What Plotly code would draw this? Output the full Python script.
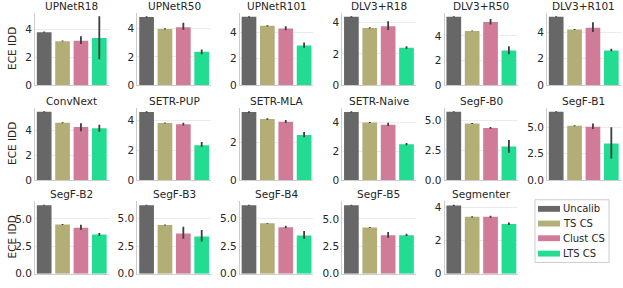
import plotly.graph_objects as go

models = ["UPNetR18", "UPNetR50", "UPNetR101", "DLV3+R18", "DLV3+R50", "DLV3+R101",
          "ConvNext", "SETR-PUP", "SETR-MLA", "SETR-Naive", "SegF-B0", "SegF-B1",
          "SegF-B2", "SegF-B3", "SegF-B4", "SegF-B5", "Segmenter"]
series = ["Uncalib", "TS CS", "Clust CS", "LTS CS"]

uncalib = [3.82, 4.83, 5.15, 4.37, 5.56, 5.15, 5.47, 4.56, 3.64, 4.70, 5.73, 6.45, 6.25, 6.19, 6.19, 6.25, 4.14]
uncalib_lo = [3.78, 4.79, 5.10, 4.33, 5.52, 5.11, 5.43, 4.52, 3.60, 4.66, 5.69, 6.40, 6.21, 6.15, 6.15, 6.21, 4.10]
uncalib_hi = [3.87, 4.88, 5.20, 4.41, 5.61, 5.20, 5.52, 4.61, 3.69, 4.75, 5.78, 6.50, 6.30, 6.24, 6.24, 6.30, 4.19]

ts = [3.17, 3.98, 4.47, 3.66, 4.41, 4.19, 4.59, 3.82, 3.27, 3.97, 4.74, 5.13, 4.49, 4.40, 4.55, 4.22, 3.45]
ts_lo = [3.14, 3.94, 4.43, 3.62, 4.38, 4.16, 4.55, 3.78, 3.23, 3.93, 4.70, 5.09, 4.45, 4.36, 4.51, 4.18, 3.41]
ts_hi = [3.21, 4.02, 4.51, 3.70, 4.45, 4.23, 4.63, 3.86, 3.31, 4.01, 4.78, 5.17, 4.53, 4.44, 4.59, 4.26, 3.49]

clust = [3.20, 4.10, 4.28, 3.76, 5.14, 4.33, 4.26, 3.73, 3.13, 3.82, 4.37, 5.04, 4.20, 3.63, 4.20, 3.51, 3.45]
clust_lo = [2.97, 3.92, 4.14, 3.52, 4.93, 4.01, 3.92, 3.65, 3.06, 3.72, 4.30, 4.83, 4.02, 3.15, 4.10, 3.27, 3.40]
clust_hi = [3.52, 4.42, 4.45, 4.09, 5.38, 4.74, 4.56, 3.84, 3.22, 3.95, 4.45, 5.34, 4.46, 4.25, 4.33, 3.80, 3.52]

lts = [3.40, 2.36, 3.00, 2.39, 2.83, 2.62, 4.15, 2.33, 2.41, 2.47, 2.82, 3.45, 3.57, 3.36, 3.45, 3.51, 3.02]
lts_lo = [1.86, 2.18, 2.82, 2.33, 2.52, 2.55, 3.88, 2.23, 2.29, 2.40, 2.29, 2.04, 3.47, 2.91, 3.15, 3.45, 2.95]
lts_hi = [4.97, 2.52, 3.22, 2.49, 3.17, 2.74, 4.43, 2.55, 2.58, 2.55, 3.36, 4.98, 3.72, 3.96, 3.87, 3.65, 3.10]

tick_step = [2, 2, 2, 2, 2, 2, 2, 2, 2, 2, 2.5, 2.5, 2.5, 2.5, 2.5, 2.5, 2]

colors = ["#676767", "#b3ad76", "#d07c98", "#22dc92"]
err_color = "#3d3d3d"
text_color = "#262626"
FONT = "DejaVu Sans"

W, H = 623, 288
col_left = [35, 137.4, 239.8, 342.2, 444.6, 547]
panel_w = 73.5
row_top = [13, 110, 205.5]
panel_h = 74

means = [uncalib, ts, clust, lts]
los = [uncalib_lo, ts_lo, clust_lo, lts_lo]
his = [uncalib_hi, ts_hi, clust_hi, lts_hi]

fig = go.Figure()
layout = {}
annotations = []
shapes = []

for i, m in enumerate(models):
    r, c = divmod(i, 6)
    n = i + 1
    xa = "x" if n == 1 else f"x{n}"
    ya = "y" if n == 1 else f"y{n}"
    yv = [means[k][i] for k in range(4)]
    ep = [his[k][i] - means[k][i] for k in range(4)]
    em = [means[k][i] - los[k][i] for k in range(4)]
    fig.add_trace(go.Bar(
        x=[0, 1, 2, 3], y=yv, width=0.8,
        marker=dict(color=colors, line=dict(width=0)),
        error_y=dict(type="data", symmetric=False, array=ep, arrayminus=em,
                     color=err_color, thickness=1.8, width=0),
        xaxis=xa, yaxis=ya, showlegend=False, hoverinfo="skip"))
    ymax = max(his[k][i] for k in range(4)) * 1.05
    step = tick_step[i]
    tv = []
    v = 0.0
    while v <= ymax:
        tv.append(v)
        v += step
    tt = [f"{t:.1f}" if step != int(step) else f"{int(t)}" for t in tv]
    l = col_left[c]
    t = row_top[r]
    layout["xaxis" if n == 1 else f"xaxis{n}"] = dict(
        domain=[l / W, (l + panel_w) / W], anchor=ya, range=[-0.5, 3.5],
        showticklabels=False, showgrid=False, zeroline=False, ticks="",
        showline=True, linecolor="#cccccc", linewidth=1, fixedrange=True)
    layout["yaxis" if n == 1 else f"yaxis{n}"] = dict(
        domain=[1 - (t + panel_h) / H, 1 - t / H], anchor=xa, range=[0, ymax],
        tickvals=tv, ticktext=tt, showgrid=True, gridcolor="#ebebeb", gridwidth=1,
        zeroline=False, ticks="", showline=True, linecolor="#cccccc", linewidth=1,
        tickfont=dict(family=FONT, size=10.5, color=text_color), fixedrange=True)
    annotations.append(dict(
        text=m, x=(l + panel_w / 2) / W, y=1 - t / H, xref="paper", yref="paper",
        xanchor="center", yanchor="bottom", showarrow=False, yshift=-1,
        font=dict(family=FONT, size=10.5, color=text_color)))

for r in range(3):
    annotations.append(dict(
        text="ECE IDD", x=12 / W, y=1 - (row_top[r] + panel_h / 2) / H,
        xref="paper", yref="paper", xanchor="center", yanchor="middle",
        textangle=-90, showarrow=False,
        font=dict(family=FONT, size=10.5, color=text_color)))

# legend
shapes.append(dict(type="rect", xref="paper", yref="paper",
                   x0=535 / W, x1=609 / W, y0=1 - 268 / H, y1=1 - 204 / H,
                   line=dict(color="#cccccc", width=1), fillcolor="white"))
leg_y = [213.3, 228.3, 243.3, 259.0]
for k, s in enumerate(series):
    yc = leg_y[k]
    shapes.append(dict(type="rect", xref="paper", yref="paper",
                       x0=538 / W, x1=560 / W, y0=1 - (yc + 3) / H, y1=1 - (yc - 3) / H,
                       line=dict(width=0), fillcolor=colors[k]))
    annotations.append(dict(
        text=s, x=561 / W, y=1 - yc / H, xref="paper", yref="paper",
        xanchor="left", yanchor="middle", showarrow=False,
        font=dict(family=FONT, size=10, color=text_color)))

fig.update_layout(**layout)
fig.update_layout(
    width=W, height=H, margin=dict(l=0, r=0, t=0, b=0),
    paper_bgcolor="white", plot_bgcolor="white",
    annotations=annotations, shapes=shapes, barmode="group", bargap=0.2,
    font=dict(family=FONT, color=text_color))

fig.write_html("out.html", config={"displayModeBar": False},
               post_script="document.body.style.margin='0';document.body.style.overflow='hidden';")
